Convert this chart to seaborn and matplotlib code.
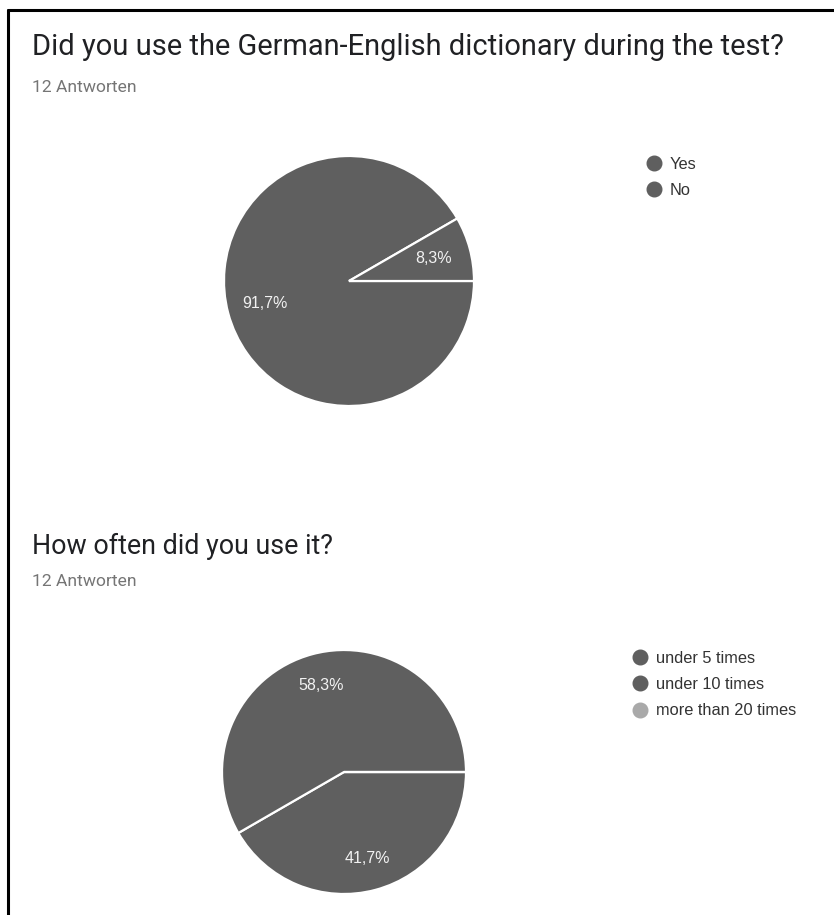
import matplotlib
matplotlib.use("Agg")
import matplotlib.pyplot as plt
from matplotlib.lines import Line2D
import seaborn as sns

# ---- data ----
title1 = "Did you use the German-English dictionary during the test?"
subtitle1 = "12 Antworten"
labels1 = ["Yes", "No"]
counts1 = [11, 1]
colors1 = ["#5f5f5f", "#5f5f5f"]

title2 = "How often did you use it?"
subtitle2 = "12 Antworten"
labels2 = ["under 5 times", "under 10 times", "more than 20 times"]
counts2 = [5, 7, 0]
colors2 = ["#5f5f5f", "#5f5f5f", "#a9a9a9"]

sns.set_theme(style="white")
plt.rcParams["font.family"] = ["Liberation Sans", "DejaVu Sans"]

W, H = 834, 915
fig = plt.figure(figsize=(W / 100, H / 100), dpi=100)
fig.patch.set_facecolor("white")


def fx(px):
    return px / W


def fy(py):
    return 1 - py / H


def fmt_pct(p):
    if p < 0.05:
        return ""
    return f"{p:.1f}%".replace(".", ",")


def add_pie(cx, cy, r, counts, colors, pctdist):
    pad = 1.03
    ax = fig.add_axes([fx(cx - r * pad), fy(cy + r * pad), 2 * r * pad / W, 2 * r * pad / H])
    wedges, texts, autotexts = ax.pie(
        counts, colors=colors, startangle=0, counterclock=False,
        autopct=fmt_pct, pctdistance=pctdist,
        wedgeprops=dict(edgecolor="white", linewidth=1.6),
        textprops=dict(color="#f2f2f2", fontsize=11.5, family=["Liberation Sans", "DejaVu Sans"]),
    )
    ax.set_xlim(-pad, pad)
    ax.set_ylim(-pad, pad)
    ax.set_aspect("equal")
    ax.axis("off")
    return ax


def add_legend(ax, labels, colors, x0, ytop):
    handles = [Line2D([], [], marker="o", linestyle="", markersize=10.5,
                      markerfacecolor=c, markeredgecolor=c) for c in colors]
    leg = ax.legend(handles, labels, loc="upper left",
                    bbox_to_anchor=(fx(x0), fy(ytop)), bbox_transform=fig.transFigure,
                    frameon=False, borderpad=0, borderaxespad=0,
                    handlelength=1.0, handletextpad=0.45, labelspacing=0.68,
                    prop=dict(family=["Liberation Sans", "DejaVu Sans"], size=11.8))
    for t in leg.get_texts():
        t.set_color("#333333")
    return leg


# titles
fig.text(fx(32), fy(47), title1, fontsize=20.9, family=["Roboto", "DejaVu Sans"],
         color="#202124", va="center", ha="left")
fig.text(fx(32), fy(87), subtitle1, fontsize=12.6, family=["Roboto", "DejaVu Sans"],
         color="#757575", va="center", ha="left")
fig.text(fx(32), fy(546), title2, fontsize=19.4, family=["Roboto", "DejaVu Sans"],
         color="#202124", va="center", ha="left")
fig.text(fx(32), fy(582), subtitle2, fontsize=12.6, family=["Roboto", "DejaVu Sans"],
         color="#757575", va="center", ha="left")

ax1 = add_pie(349, 281, 125, counts1, colors1, 0.70)
add_legend(ax1, labels1, colors1, 646, 157)

ax2 = add_pie(344, 772, 122, counts2, colors2, 0.73)
add_legend(ax2, labels2, colors2, 632, 651)

# partial frame (top and left edges)
fig.add_artist(Line2D([fx(8), fx(834)], [fy(10), fy(10)], color="black", linewidth=2.2,
                      transform=fig.transFigure))
fig.add_artist(Line2D([fx(8), fx(8)], [fy(10), fy(915)], color="black", linewidth=2.2,
                      transform=fig.transFigure))

fig.savefig("out.png", dpi=100, facecolor="white")
